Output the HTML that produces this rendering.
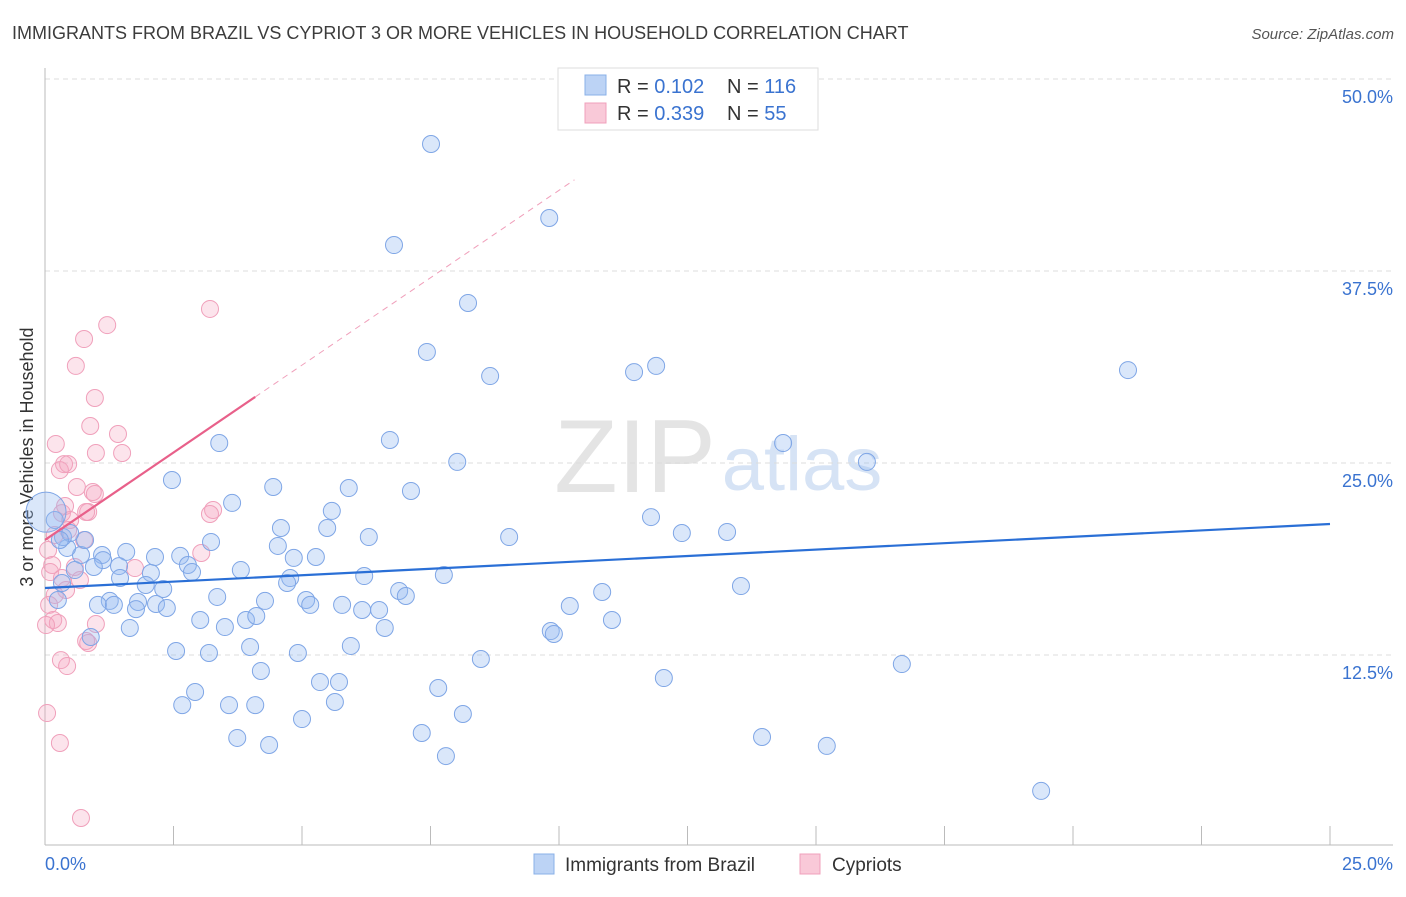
<!DOCTYPE html>
<html><head><meta charset="utf-8"><style>
body{margin:0;background:#fff;font-family:"Liberation Sans",sans-serif}
svg text{font-family:"Liberation Sans",sans-serif}
</style></head><body>
<svg id="chart" width="1406" height="892" viewBox="0 0 1406 892">
<text x="12" y="39" font-size="18" fill="#3c3c3c">IMMIGRANTS FROM BRAZIL VS CYPRIOT 3 OR MORE VEHICLES IN HOUSEHOLD CORRELATION CHART</text>
<text x="1394" y="39" font-size="15" fill="#555" font-style="italic" text-anchor="end">Source: ZipAtlas.com</text>
<text transform="translate(33,457) rotate(-90)" font-size="18" fill="#333" text-anchor="middle">3 or more Vehicles in Household</text>
<g><text x="635" y="492" font-size="104" fill="#e4e4e4" font-family="Liberation Serif" text-anchor="middle">ZIP</text><text x="802" y="490" font-size="76" fill="#d6e3f5" text-anchor="middle">atlas</text></g>
<g id="grid"></g><g id="axes"></g><g id="trend"></g><g id="pts"></g>
<g>
<rect x="558" y="68" width="260" height="62" fill="#fff" stroke="#ddd"/>
<rect x="585" y="75" width="21" height="20" fill="#bcd3f5" stroke="#8ab0e8"/>
<rect x="585" y="103" width="21" height="20" fill="#f9c9d8" stroke="#f0a0bb"/>
<text x="617" y="93" font-size="20" fill="#333">R = <tspan fill="#3a73d0">0.102</tspan></text>
<text x="727" y="93" font-size="20" fill="#333">N = <tspan fill="#3a73d0">116</tspan></text>
<text x="617" y="120" font-size="20" fill="#333">R = <tspan fill="#3a73d0">0.339</tspan></text>
<text x="727" y="120" font-size="20" fill="#333">N = <tspan fill="#3a73d0"> 55</tspan></text>
</g>
<g>
<rect x="534" y="854" width="20" height="20" fill="#bcd3f5" stroke="#8ab0e8"/>
<text x="565" y="871" font-size="19" fill="#333">Immigrants from Brazil</text>
<rect x="800" y="854" width="20" height="20" fill="#f9c9d8" stroke="#f0a0bb"/>
<text x="832" y="871" font-size="19" fill="#333">Cypriots</text>
</g>
</svg>
<script>
const blueX=[7.51,9.81,6.79,8.23,7.43,8.66,11.46,11.89,21.07,6.71,3.39,14.36,15.99,8.02,2.47,4.44,5.91,7.12,3.64,5.58,11.79,12.39,13.27,9.03,6.30,5.49,4.59,4.53,3.23,1.58,2.14,2.63,1.11,0.70,0.43,0.35,0.78,0.49,1.13,2.78,2.86,1.44,0.95,2.06,3.81,4.84,5.27,4.77,4.71,6.21,7.76,13.54,6.89,7.02,10.84,1.96,2.30,1.46,1.26,1.03,1.34,1.81,1.77,2.16,2.37,3.35,4.28,5.08,5.16,5.78,6.17,6.50,10.21,11.03,3.02,1.65,3.50,3.91,4.11,6.61,9.84,9.90,0.89,2.55,3.19,3.99,4.92,5.95,8.48,16.67,4.20,5.35,5.72,2.92,7.65,12.04,2.67,3.58,4.09,5.64,5.00,8.13,3.74,4.36,7.33,13.95,15.21,7.80,19.38,0.19,0.29,0.58,0.33,0.25];
const blueY=[45.77,40.95,39.19,35.42,32.23,30.66,30.92,31.32,31.05,26.50,26.30,26.30,25.07,25.07,23.89,23.44,23.37,23.18,22.40,21.88,21.48,20.44,20.51,20.18,20.18,20.77,20.77,19.60,19.86,19.21,18.88,18.95,19.01,19.01,19.47,20.18,19.99,20.44,18.68,18.36,17.90,18.29,18.23,17.84,18.03,18.82,18.88,17.51,17.19,17.64,17.71,16.99,16.67,16.34,16.60,17.06,16.80,17.51,16.02,15.76,15.76,15.95,15.49,15.82,15.56,16.28,16.02,16.08,15.76,15.76,15.43,15.43,15.69,14.78,14.78,14.26,14.32,14.78,15.04,14.26,14.06,13.87,13.67,12.76,12.63,13.02,12.63,13.09,12.24,11.91,11.46,10.74,10.74,10.09,10.35,11.00,9.24,9.24,9.24,9.44,8.33,8.66,7.10,6.64,7.42,7.16,6.58,5.92,3.65,21.29,19.99,18.03,17.19,16.08];
const pinkX=[3.21,1.21,0.76,0.60,0.97,0.88,1.42,1.50,0.99,0.21,0.37,0.29,0.45,0.62,0.93,0.97,0.39,0.33,0.84,0.49,0.45,3.27,3.21,3.04,0.06,0.14,0.10,1.75,0.58,0.68,0.33,0.41,0.19,0.08,0.16,0.25,0.02,0.99,0.80,0.84,0.31,0.43,0.04,0.29,0.70,0.80,0.19,0.76];
const pinkY=[35.03,33.98,33.07,31.32,29.23,27.41,26.89,25.65,25.65,26.24,24.93,24.54,24.93,23.44,23.11,22.98,22.20,21.74,21.81,21.29,20.64,21.94,21.68,19.14,19.34,18.36,17.90,18.16,18.23,17.38,17.51,16.73,16.41,15.76,14.78,14.58,14.45,14.52,13.41,13.28,12.17,11.78,8.72,6.77,1.89,21.81,20.31,19.99];
const yTicks=[12.5,25.0,37.5,50.0];
const xTickLabels=["0.0%","25.0%"];
const blueTrend=[16.86,21.03];
const pinkTrend=[19.99,29.3];
const pinkSolidEnd=4.09, pinkDashEnd=10.3;
const X=v=>45+v*51.4, Y=v=>847-v*15.36;
const NS="http://www.w3.org/2000/svg";
function mk(t,a,p){const e=document.createElementNS(NS,t);for(const k in a)e.setAttribute(k,a[k]);p.appendChild(e);return e;}
const grid=document.getElementById('grid'),axes=document.getElementById('axes'),trend=document.getElementById('trend'),pts=document.getElementById('pts');
yTicks.forEach(v=>{
 const l=mk('line',{x1:45,x2:1393,y1:Y(v),y2:Y(v),stroke:'#dcdcdc','stroke-dasharray':'5,4'},grid);
 
 
 const t=mk('text',{x:1393,y:Y(v)+24,'font-size':18,fill:'#3a73d0','text-anchor':'end'},grid);
 t.textContent=v.toFixed(1)+'%';
 
 
});
mk('line',{x1:45,x2:45,y1:68,y2:845,stroke:'#bbb'},axes);
mk('line',{x1:45,x2:1393,y1:845,y2:845,stroke:'#bbb'},axes);
for(let i=1;i<=10;i++){const x=X(i*2.5);const tk=mk('line',{x1:x,x2:x,y1:826,y2:845,stroke:'#bbb'},axes);
 
 }
[[0,45,'start'],[25,1393,'end']].forEach((d,i)=>{const t=mk('text',{x:d[1],y:870,'font-size':18,fill:'#3a73d0','text-anchor':d[2]},axes);t.textContent=xTickLabels[i];
 
 });
const sl=(pinkTrend[1]-pinkTrend[0])/pinkSolidEnd;
pinkX.forEach((x,i)=>{const c=mk('circle',{cx:X(x),cy:Y(pinkY[i]),r:8.5,fill:'rgba(245,165,192,0.3)',stroke:'#f0a0bb','stroke-width':1},pts);
 
 });
blueX.forEach((x,i)=>{const c=mk('circle',{cx:X(x),cy:Y(blueY[i]),r:8.5,fill:'rgba(150,185,240,0.35)',stroke:'#7fa6e6','stroke-width':1},pts);
 
 });
const big=mk('circle',{cx:X(0.02),cy:Y(21.8),r:20,fill:'rgba(150,185,240,0.35)',stroke:'#7fa6e6'},pts);


const dl=mk('line',{x1:X(pinkSolidEnd),y1:Y(pinkTrend[1]),x2:X(pinkDashEnd),y2:Y(pinkTrend[0]+sl*pinkDashEnd),stroke:'#f0a0bb','stroke-dasharray':'6,5','stroke-width':1},trend);


const bl=mk('line',{x1:X(0),y1:Y(blueTrend[0]),x2:X(25),y2:Y(blueTrend[1]),stroke:'#2a6fd6','stroke-width':2.2},pts);


const pl=mk('line',{x1:X(0),y1:Y(pinkTrend[0]),x2:X(pinkSolidEnd),y2:Y(pinkTrend[1]),stroke:'#e8608a','stroke-width':2.2},pts);


</script>
</body></html>
